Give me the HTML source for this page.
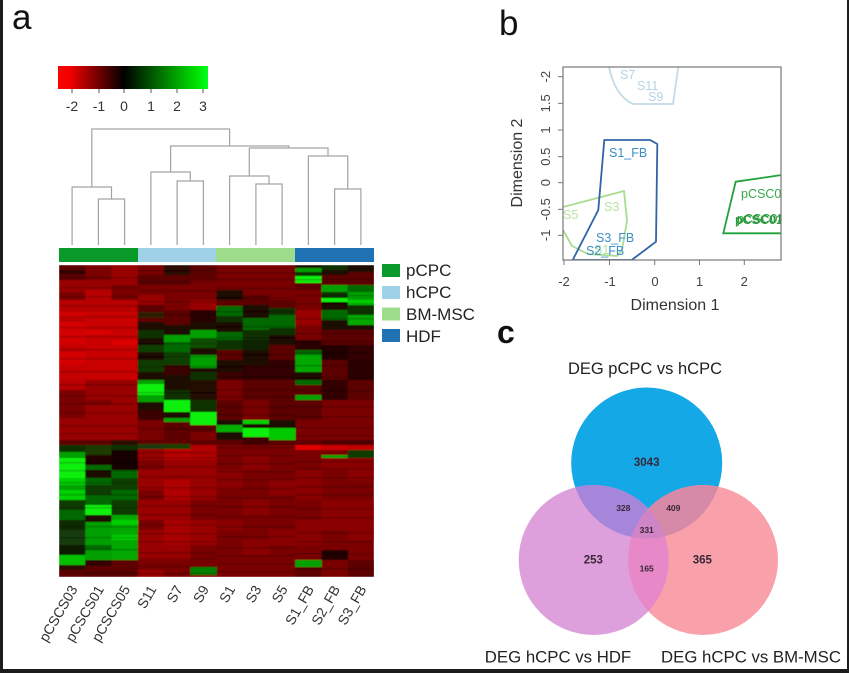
<!DOCTYPE html>
<html><head><meta charset="utf-8"><style>
html,body{margin:0;padding:0;background:#fff;}
svg{display:block;font-family:"Liberation Sans",Arial,sans-serif;}
</style></head><body>
<svg width="849" height="673" viewBox="0 0 849 673" xmlns="http://www.w3.org/2000/svg">
<defs>
<linearGradient id="key" x1="0" x2="1" y1="0" y2="0">
<stop offset="0" stop-color="#ff0000"/><stop offset="0.08" stop-color="#f00000"/><stop offset="0.44" stop-color="#000000"/><stop offset="0.92" stop-color="#00e000"/><stop offset="1" stop-color="#00ff20"/>
</linearGradient>
<clipPath id="box"><rect x="563" y="67" width="218" height="193"/></clipPath>
<clipPath id="cB"><circle cx="646.7" cy="463" r="75.5"/></clipPath>
<clipPath id="cP"><circle cx="593.7" cy="560" r="75"/></clipPath>
<clipPath id="cK"><circle cx="703" cy="560" r="75"/></clipPath>
<clipPath id="hm"><rect x="59" y="265" width="315" height="312"/></clipPath>
<filter id="bl" x="-2%" y="-2%" width="104%" height="104%"><feGaussianBlur stdDeviation="0.55"/></filter>
</defs>
<rect width="849" height="673" fill="#fff"/>
<!-- frame -->
<rect x="0" y="0" width="3" height="673" fill="#1c1c1c"/>
<rect x="847" y="0" width="2" height="673" fill="#1c1c1c"/>
<rect x="0" y="669" width="849" height="4" fill="#1c1c1c"/>

<!-- panel a -->
<text x="12" y="29" font-size="35" fill="#111">a</text>
<rect x="58" y="66" width="150" height="23" fill="url(#key)"/>
<g stroke="#555" stroke-width="1">
<line x1="72" y1="89" x2="72" y2="93"/><line x1="99" y1="89" x2="99" y2="93"/><line x1="124" y1="89" x2="124" y2="93"/><line x1="151" y1="89" x2="151" y2="93"/><line x1="177" y1="89" x2="177" y2="93"/><line x1="203" y1="89" x2="203" y2="93"/>
</g>
<g font-size="14" fill="#333" text-anchor="middle">
<text x="72" y="111">-2</text><text x="99" y="111">-1</text><text x="124" y="111">0</text><text x="151" y="111">1</text><text x="177" y="111">2</text><text x="203" y="111">3</text>
</g>
<!-- dendrogram -->
<g fill="none" stroke="#a3a3a3" stroke-width="1.2">
<path d="M98.4,245V199H124.6V245"/>
<path d="M72.1,245V187H111.5V199"/>
<path d="M177.1,245V181H203.4V245"/>
<path d="M150.9,245V172H190.25V181"/>
<path d="M255.9,245V184H282.1V245"/>
<path d="M229.6,245V176H269V184"/>
<path d="M334.6,245V189H360.9V245"/>
<path d="M308.4,245V156H347.75V189"/>
<path d="M249.3,176V148H328V156"/>
<path d="M170.6,172V146H288.7V148"/>
<path d="M91.8,187V129H229.6V146"/>
</g>
<!-- color bar -->
<rect x="59" y="248" width="79" height="14" fill="#0a9a2a"/>
<rect x="138" y="248" width="78" height="14" fill="#9fd2e6"/>
<rect x="216" y="248" width="79" height="14" fill="#9ddc8a"/>
<rect x="295" y="248" width="79" height="14" fill="#1f72b4"/>

<!-- heatmap -->
<g clip-path="url(#hm)"><g filter="url(#bl)">
<rect x="59" y="265" width="315" height="312" fill="#7a0000"/>
<g transform="translate(59,0)">
<rect y="265" height="5" width="26.5" fill="#5c0000"/><rect y="270" height="4" width="26.5" fill="#300000"/><rect y="274" height="6" width="26.5" fill="#5c0000"/><rect y="280" height="12" width="26.5" fill="#990000"/><rect y="292" height="8" width="26.5" fill="#7a0000"/><rect y="300" height="12" width="26.5" fill="#b80000"/><rect y="312" height="6" width="26.5" fill="#d40000"/><rect y="318" height="4" width="26.5" fill="#b80000"/><rect y="322" height="23" width="26.5" fill="#d40000"/><rect y="345" height="7" width="26.5" fill="#c00000"/><rect y="352" height="13" width="26.5" fill="#d40000"/><rect y="365" height="15" width="26.5" fill="#c40000"/><rect y="380" height="10" width="26.5" fill="#b80000"/><rect y="390" height="28" width="26.5" fill="#7a0000"/><rect y="418" height="22" width="26.5" fill="#990000"/><rect y="440" height="5" width="26.5" fill="#5c0000"/><rect y="445" height="7" width="26.5" fill="#0a3000"/><rect y="452" height="6" width="26.5" fill="#00a000"/><rect y="458" height="20" width="26.5" fill="#10f010"/><rect y="478" height="7" width="26.5" fill="#00d000"/><rect y="485" height="5" width="26.5" fill="#00a000"/><rect y="490" height="10" width="26.5" fill="#00d000"/><rect y="500" height="10" width="26.5" fill="#0a3a00"/><rect y="510" height="10" width="26.5" fill="#006a00"/><rect y="520" height="10" width="26.5" fill="#0a2a00"/><rect y="530" height="15" width="26.5" fill="#123a10"/><rect y="545" height="10" width="26.5" fill="#0a1a00"/><rect y="555" height="10" width="26.5" fill="#00c000"/><rect y="565" height="5" width="26.5" fill="#2a1000"/><rect y="570" height="7" width="26.5" fill="#600000"/>
</g>
<g transform="translate(85.25,0)">
<rect y="265" height="15" width="26.5" fill="#7a0000"/><rect y="280" height="10" width="26.5" fill="#990000"/><rect y="290" height="22" width="26.5" fill="#b80000"/><rect y="312" height="68" width="26.5" fill="#c80000"/><rect y="330" height="4" width="26.5" fill="#d80000"/><rect y="380" height="60" width="26.5" fill="#990000"/><rect y="400" height="5" width="26.5" fill="#7a0000"/><rect y="440" height="5" width="26.5" fill="#5c0000"/><rect y="445" height="10" width="26.5" fill="#1a3a00"/><rect y="455" height="10" width="26.5" fill="#200000"/><rect y="465" height="5" width="26.5" fill="#006a00"/><rect y="470" height="8" width="26.5" fill="#1a0800"/><rect y="478" height="7" width="26.5" fill="#006a00"/><rect y="485" height="10" width="26.5" fill="#0a3a00"/><rect y="495" height="10" width="26.5" fill="#006a00"/><rect y="505" height="10" width="26.5" fill="#10f010"/><rect y="515" height="7" width="26.5" fill="#1a0800"/><rect y="522" height="23" width="26.5" fill="#00a000"/><rect y="545" height="5" width="26.5" fill="#006a00"/><rect y="550" height="10" width="26.5" fill="#00a000"/><rect y="560" height="6" width="26.5" fill="#300000"/><rect y="566" height="11" width="26.5" fill="#5c0000"/>
</g>
<g transform="translate(111.5,0)">
<rect y="265" height="20" width="26.5" fill="#990000"/><rect y="285" height="15" width="26.5" fill="#7a0000"/><rect y="300" height="12" width="26.5" fill="#b80000"/><rect y="312" height="68" width="26.5" fill="#c80000"/><rect y="340" height="5" width="26.5" fill="#dc0000"/><rect y="380" height="60" width="26.5" fill="#990000"/><rect y="440" height="5" width="26.5" fill="#2a1000"/><rect y="445" height="5" width="26.5" fill="#0a3000"/><rect y="450" height="20" width="26.5" fill="#150000"/><rect y="470" height="8" width="26.5" fill="#006a00"/><rect y="478" height="12" width="26.5" fill="#0a4000"/><rect y="490" height="10" width="26.5" fill="#006a00"/><rect y="500" height="15" width="26.5" fill="#0a3a00"/><rect y="515" height="45" width="26.5" fill="#00a800"/><rect y="520" height="5" width="26.5" fill="#00d000"/><rect y="535" height="5" width="26.5" fill="#00d000"/><rect y="560" height="17" width="26.5" fill="#5c0000"/>
</g>
<g transform="translate(137.75,0)">
<rect y="265" height="10" width="26.5" fill="#7a0000"/><rect y="275" height="10" width="26.5" fill="#5c0000"/><rect y="285" height="10" width="26.5" fill="#7a0000"/><rect y="295" height="10" width="26.5" fill="#990000"/><rect y="305" height="7" width="26.5" fill="#5c0000"/><rect y="312" height="6" width="26.5" fill="#302000"/><rect y="318" height="4" width="26.5" fill="#5c0000"/><rect y="322" height="8" width="26.5" fill="#1a0800"/><rect y="330" height="8" width="26.5" fill="#0a3000"/><rect y="338" height="7" width="26.5" fill="#1a0800"/><rect y="345" height="7" width="26.5" fill="#0a4000"/><rect y="352" height="8" width="26.5" fill="#1a0800"/><rect y="360" height="12" width="26.5" fill="#103a00"/><rect y="372" height="8" width="26.5" fill="#1a0800"/><rect y="380" height="4" width="26.5" fill="#00a000"/><rect y="384" height="11" width="26.5" fill="#10f010"/><rect y="395" height="7" width="26.5" fill="#00a000"/><rect y="402" height="8" width="26.5" fill="#1a0800"/><rect y="410" height="10" width="26.5" fill="#3a0000"/><rect y="420" height="20" width="26.5" fill="#7a0000"/><rect y="440" height="4" width="26.5" fill="#600000"/><rect y="444" height="5" width="26.5" fill="#1a3a08"/><rect y="449" height="11" width="26.5" fill="#990000"/><rect y="470" height="20" width="26.5" fill="#990000"/><rect y="500" height="20" width="26.5" fill="#990000"/><rect y="530" height="30" width="26.5" fill="#990000"/><rect y="570" height="7" width="26.5" fill="#990000"/>
</g>
<g transform="translate(164,0)">
<rect y="265" height="10" width="26.5" fill="#2a0800"/><rect y="275" height="10" width="26.5" fill="#5c0000"/><rect y="310" height="15" width="26.5" fill="#5c0000"/><rect y="325" height="10" width="26.5" fill="#1a0800"/><rect y="335" height="7" width="26.5" fill="#00a000"/><rect y="342" height="10" width="26.5" fill="#006a00"/><rect y="352" height="13" width="26.5" fill="#0a4000"/><rect y="365" height="10" width="26.5" fill="#3a0000"/><rect y="375" height="15" width="26.5" fill="#1a0800"/><rect y="390" height="10" width="26.5" fill="#0a3000"/><rect y="400" height="12" width="26.5" fill="#10f010"/><rect y="412" height="6" width="26.5" fill="#1a0800"/><rect y="418" height="4" width="26.5" fill="#00a000"/><rect y="422" height="18" width="26.5" fill="#5c0000"/><rect y="440" height="4" width="26.5" fill="#600000"/><rect y="444" height="5" width="26.5" fill="#1a4000"/><rect y="449" height="11" width="26.5" fill="#b80000"/><rect y="460" height="20" width="26.5" fill="#990000"/><rect y="480" height="20" width="26.5" fill="#b00000"/><rect y="500" height="20" width="26.5" fill="#990000"/><rect y="520" height="25" width="26.5" fill="#a80000"/><rect y="545" height="15" width="26.5" fill="#990000"/>
</g>
<g transform="translate(190.25,0)">
<rect y="265" height="15" width="26.5" fill="#5c0000"/><rect y="300" height="10" width="26.5" fill="#990000"/><rect y="310" height="12" width="26.5" fill="#2a0000"/><rect y="322" height="8" width="26.5" fill="#1a0800"/><rect y="330" height="8" width="26.5" fill="#00a000"/><rect y="338" height="10" width="26.5" fill="#0a5000"/><rect y="348" height="7" width="26.5" fill="#1a0800"/><rect y="355" height="13" width="26.5" fill="#00a000"/><rect y="368" height="4" width="26.5" fill="#1a0800"/><rect y="372" height="8" width="26.5" fill="#0a3000"/><rect y="380" height="20" width="26.5" fill="#200800"/><rect y="400" height="12" width="26.5" fill="#0a3000"/><rect y="412" height="13" width="26.5" fill="#10f010"/><rect y="425" height="7" width="26.5" fill="#5c0000"/><rect y="440" height="5" width="26.5" fill="#600000"/><rect y="445" height="15" width="26.5" fill="#b00000"/><rect y="460" height="40" width="26.5" fill="#990000"/><rect y="520" height="25" width="26.5" fill="#990000"/><rect y="567" height="8" width="26.5" fill="#008000"/>
</g>
<g transform="translate(216.5,0)">
<rect y="290" height="10" width="26.5" fill="#1a0800"/><rect y="300" height="6" width="26.5" fill="#5c0000"/><rect y="306" height="10" width="26.5" fill="#006a00"/><rect y="316" height="6" width="26.5" fill="#0a3000"/><rect y="322" height="10" width="26.5" fill="#1a0800"/><rect y="332" height="8" width="26.5" fill="#006a00"/><rect y="340" height="10" width="26.5" fill="#0a3000"/><rect y="350" height="10" width="26.5" fill="#5c0000"/><rect y="360" height="12" width="26.5" fill="#1a0800"/><rect y="372" height="8" width="26.5" fill="#3a0000"/><rect y="400" height="20" width="26.5" fill="#5c0000"/><rect y="420" height="5" width="26.5" fill="#1a0800"/><rect y="425" height="7" width="26.5" fill="#00b000"/><rect y="432" height="8" width="26.5" fill="#1a0800"/><rect y="440" height="5" width="26.5" fill="#5c0000"/><rect y="470" height="20" width="26.5" fill="#8a0000"/><rect y="520" height="10" width="26.5" fill="#8a0000"/>
</g>
<g transform="translate(242.75,0)">
<rect y="295" height="10" width="26.5" fill="#5c0000"/><rect y="305" height="13" width="26.5" fill="#1a0800"/><rect y="318" height="12" width="26.5" fill="#006a00"/><rect y="330" height="10" width="26.5" fill="#0a3000"/><rect y="340" height="10" width="26.5" fill="#0a2000"/><rect y="350" height="15" width="26.5" fill="#1a0800"/><rect y="365" height="15" width="26.5" fill="#300000"/><rect y="380" height="20" width="26.5" fill="#5c0000"/><rect y="420" height="4" width="26.5" fill="#00d000"/><rect y="424" height="4" width="26.5" fill="#1a0800"/><rect y="428" height="9" width="26.5" fill="#10f010"/><rect y="437" height="8" width="26.5" fill="#400000"/><rect y="455" height="15" width="26.5" fill="#8a0000"/><rect y="500" height="15" width="26.5" fill="#8a0000"/><rect y="540" height="15" width="26.5" fill="#8a0000"/>
</g>
<g transform="translate(269,0)">
<rect y="300" height="8" width="26.5" fill="#5c0000"/><rect y="308" height="7" width="26.5" fill="#0a3000"/><rect y="315" height="13" width="26.5" fill="#006a00"/><rect y="328" height="7" width="26.5" fill="#0a3000"/><rect y="335" height="10" width="26.5" fill="#1a0800"/><rect y="345" height="15" width="26.5" fill="#5c0000"/><rect y="360" height="20" width="26.5" fill="#300000"/><rect y="380" height="40" width="26.5" fill="#5c0000"/><rect y="420" height="8" width="26.5" fill="#1a0800"/><rect y="428" height="12" width="26.5" fill="#00c800"/><rect y="440" height="5" width="26.5" fill="#5a0000"/><rect y="480" height="15" width="26.5" fill="#8a0000"/><rect y="530" height="15" width="26.5" fill="#8a0000"/>
</g>
<g transform="translate(295.25,0)">
<rect y="265" height="3" width="26.5" fill="#1a0800"/><rect y="268" height="4" width="26.5" fill="#00a000"/><rect y="272" height="4" width="26.5" fill="#0a3000"/><rect y="276" height="7" width="26.5" fill="#10f010"/><rect y="283" height="7" width="26.5" fill="#5c0000"/><rect y="310" height="15" width="26.5" fill="#990000"/><rect y="340" height="10" width="26.5" fill="#2a0000"/><rect y="350" height="5" width="26.5" fill="#006a00"/><rect y="355" height="17" width="26.5" fill="#00a800"/><rect y="372" height="8" width="26.5" fill="#1a0800"/><rect y="380" height="5" width="26.5" fill="#006a00"/><rect y="385" height="10" width="26.5" fill="#5c0000"/><rect y="395" height="5" width="26.5" fill="#00a000"/><rect y="400" height="20" width="26.5" fill="#5c0000"/><rect y="440" height="5" width="26.5" fill="#600000"/><rect y="445" height="5" width="26.5" fill="#e00000"/><rect y="470" height="30" width="26.5" fill="#8a0000"/><rect y="520" height="25" width="26.5" fill="#8a0000"/><rect y="560" height="7" width="26.5" fill="#00a000"/><rect y="567" height="10" width="26.5" fill="#5c0000"/>
</g>
<g transform="translate(321.5,0)">
<rect y="265" height="5" width="26.5" fill="#0a3000"/><rect y="270" height="5" width="26.5" fill="#1a0800"/><rect y="275" height="10" width="26.5" fill="#5c0000"/><rect y="285" height="7" width="26.5" fill="#00a000"/><rect y="292" height="6" width="26.5" fill="#0a3000"/><rect y="298" height="4" width="26.5" fill="#10f010"/><rect y="302" height="8" width="26.5" fill="#1a0800"/><rect y="310" height="10" width="26.5" fill="#006a00"/><rect y="320" height="10" width="26.5" fill="#1a0800"/><rect y="330" height="15" width="26.5" fill="#5c0000"/><rect y="345" height="15" width="26.5" fill="#200000"/><rect y="360" height="20" width="26.5" fill="#5c0000"/><rect y="380" height="20" width="26.5" fill="#300000"/><rect y="440" height="5" width="26.5" fill="#500000"/><rect y="445" height="5" width="26.5" fill="#cc0000"/><rect y="455" height="3" width="26.5" fill="#00a000"/><rect y="458" height="12" width="26.5" fill="#8a0000"/><rect y="500" height="30" width="26.5" fill="#8a0000"/><rect y="550" height="10" width="26.5" fill="#200000"/>
</g>
<g transform="translate(347.75,0)">
<rect y="265" height="7" width="26.5" fill="#1a0800"/><rect y="272" height="13" width="26.5" fill="#5c0000"/><rect y="285" height="7" width="26.5" fill="#006a00"/><rect y="292" height="8" width="26.5" fill="#00a000"/><rect y="300" height="5" width="26.5" fill="#00d000"/><rect y="305" height="10" width="26.5" fill="#0a3000"/><rect y="315" height="10" width="26.5" fill="#00a800"/><rect y="325" height="5" width="26.5" fill="#1a0800"/><rect y="330" height="15" width="26.5" fill="#5c0000"/><rect y="345" height="15" width="26.5" fill="#300000"/><rect y="360" height="20" width="26.5" fill="#2a0000"/><rect y="380" height="20" width="26.5" fill="#5c0000"/><rect y="440" height="5" width="26.5" fill="#500000"/><rect y="445" height="5" width="26.5" fill="#c00000"/><rect y="450" height="8" width="26.5" fill="#0a3a00"/><rect y="458" height="22" width="26.5" fill="#8a0000"/><rect y="500" height="40" width="26.5" fill="#8a0000"/><rect y="560" height="17" width="26.5" fill="#5c0000"/>
</g>
<!-- stripe texture -->
<g fill="#000" opacity="0.2">
<g transform="translate(59,0)">
<rect y="277" height="1.5" width="79"/><rect y="287" height="1.5" width="79"/><rect y="296" height="1.5" width="79"/><rect y="305" height="1.5" width="79"/><rect y="316" height="1.5" width="79"/><rect y="327" height="1.5" width="79"/><rect y="336" height="1.5" width="79"/><rect y="349" height="1.5" width="79"/><rect y="358" height="1.5" width="79"/><rect y="371" height="1.5" width="79"/><rect y="384" height="1.5" width="79"/><rect y="395" height="1.5" width="79"/><rect y="403" height="1.5" width="79"/><rect y="412" height="1.5" width="79"/><rect y="425" height="1.5" width="79"/><rect y="433" height="1.5" width="79"/><rect y="462" height="1.5" width="79"/><rect y="470" height="1.5" width="79"/><rect y="482" height="1.5" width="79"/><rect y="494" height="1.5" width="79"/><rect y="507" height="1.5" width="79"/><rect y="526" height="1.5" width="79"/><rect y="537" height="1.5" width="79"/><rect y="549" height="1.5" width="79"/><rect y="572" height="1.5" width="79"/>
</g>
<g transform="translate(138,0)">
<rect y="270" height="1.5" width="78"/><rect y="281" height="1.5" width="78"/><rect y="290" height="1.5" width="78"/><rect y="301" height="1.5" width="78"/><rect y="314" height="1.5" width="78"/><rect y="343" height="1.5" width="78"/><rect y="356" height="1.5" width="78"/><rect y="366" height="1.5" width="78"/><rect y="392" height="1.5" width="78"/><rect y="428" height="1.5" width="78"/><rect y="452" height="1.5" width="78"/><rect y="457" height="1.5" width="78"/><rect y="466" height="1.5" width="78"/><rect y="476" height="1.5" width="78"/><rect y="487" height="1.5" width="78"/><rect y="496" height="1.5" width="78"/><rect y="505" height="1.5" width="78"/><rect y="514" height="1.5" width="78"/><rect y="524" height="1.5" width="78"/><rect y="533" height="1.5" width="78"/><rect y="541" height="1.5" width="78"/><rect y="552" height="1.5" width="78"/><rect y="558" height="1.5" width="78"/><rect y="566" height="1.5" width="78"/><rect y="573" height="1.5" width="78"/>
</g>
<g transform="translate(216,0)">
<rect y="272" height="1.5" width="79"/><rect y="279" height="1.5" width="79"/><rect y="288" height="1.5" width="79"/><rect y="297" height="1.5" width="79"/><rect y="311" height="1.5" width="79"/><rect y="326" height="1.5" width="79"/><rect y="337" height="1.5" width="79"/><rect y="354" height="1.5" width="79"/><rect y="366" height="1.5" width="79"/><rect y="376" height="1.5" width="79"/><rect y="389" height="1.5" width="79"/><rect y="396" height="1.5" width="79"/><rect y="406" height="1.5" width="79"/><rect y="414" height="1.5" width="79"/><rect y="447" height="1.5" width="79"/><rect y="455" height="1.5" width="79"/><rect y="463" height="1.5" width="79"/><rect y="471" height="1.5" width="79"/><rect y="479" height="1.5" width="79"/><rect y="488" height="1.5" width="79"/><rect y="497" height="1.5" width="79"/><rect y="506" height="1.5" width="79"/><rect y="516" height="1.5" width="79"/><rect y="526" height="1.5" width="79"/><rect y="536" height="1.5" width="79"/><rect y="547" height="1.5" width="79"/><rect y="555" height="1.5" width="79"/><rect y="563" height="1.5" width="79"/><rect y="571" height="1.5" width="79"/>
</g>
<g transform="translate(295,0)">
<rect y="279" height="1.5" width="79"/><rect y="295" height="1.5" width="79"/><rect y="303" height="1.5" width="79"/><rect y="318" height="1.5" width="79"/><rect y="333" height="1.5" width="79"/><rect y="341" height="1.5" width="79"/><rect y="352" height="1.5" width="79"/><rect y="365" height="1.5" width="79"/><rect y="377" height="1.5" width="79"/><rect y="390" height="1.5" width="79"/><rect y="406" height="1.5" width="79"/><rect y="416" height="1.5" width="79"/><rect y="427" height="1.5" width="79"/><rect y="435" height="1.5" width="79"/><rect y="461" height="1.5" width="79"/><rect y="468" height="1.5" width="79"/><rect y="477" height="1.5" width="79"/><rect y="486" height="1.5" width="79"/><rect y="494" height="1.5" width="79"/><rect y="508" height="1.5" width="79"/><rect y="517" height="1.5" width="79"/><rect y="532" height="1.5" width="79"/><rect y="541" height="1.5" width="79"/><rect y="553" height="1.5" width="79"/><rect y="568" height="1.5" width="79"/>
</g>
</g>
</g></g>

<!-- legend -->
<rect x="382" y="264" width="18" height="13" fill="#0a9a2a"/>
<rect x="382" y="286" width="18" height="13" fill="#9fd2e6"/>
<rect x="382" y="307.5" width="18" height="13" fill="#9ddc8a"/>
<rect x="382" y="329" width="18" height="13" fill="#1f72b4"/>
<g font-size="17" fill="#222">
<text x="406" y="276">pCPC</text><text x="406" y="298">hCPC</text><text x="406" y="320">BM-MSC</text><text x="406" y="342">HDF</text>
</g>

<!-- column labels -->
<g font-size="14" fill="#333" text-anchor="end">
<text transform="translate(78,589) rotate(-60)">pCSCS03</text>
<text transform="translate(104.4,589) rotate(-60)">pCSCS01</text>
<text transform="translate(130.6,589) rotate(-60)">pCSCS05</text>
<text transform="translate(156.9,589) rotate(-60)">S11</text>
<text transform="translate(183.1,589) rotate(-60)">S7</text>
<text transform="translate(209.4,589) rotate(-60)">S9</text>
<text transform="translate(235.6,589) rotate(-60)">S1</text>
<text transform="translate(261.9,589) rotate(-60)">S3</text>
<text transform="translate(288.1,589) rotate(-60)">S5</text>
<text transform="translate(314.4,589) rotate(-60)">S1_FB</text>
<text transform="translate(340.6,589) rotate(-60)">S2_FB</text>
<text transform="translate(366.9,589) rotate(-60)">S3_FB</text>
</g>

<!-- panel b -->
<text x="499" y="35" font-size="35" fill="#111">b</text>
<g clip-path="url(#box)">
<path d="M608,62 C612,85 620,98 633,104 L673,104 L679,62" fill="none" stroke="#c4dbe6" stroke-width="1.8"/>
<path d="M563,207 L624,191 L627,221 L622,250 L617,256 L588,254 L572,246 L563,230" fill="none" stroke="#a8dc90" stroke-width="1.8"/>
<path d="M604.3,140 L650,140 L657.3,144 L656,241.7 L631.7,260 L572.7,260 L598.3,210 Z" fill="none" stroke="#2f64a6" stroke-width="1.8"/>
<path d="M735.7,181.7 L782,175 L782,233.3 L723.3,233.3 Z" fill="none" stroke="#1fa23a" stroke-width="1.8"/>
<g font-size="12.5">
<text x="620" y="79" fill="#b4d4e4">S7</text>
<text x="637" y="90" fill="#b4d4e4">S11</text>
<text x="648" y="101" fill="#b4d4e4">S9</text>
<text x="604" y="211" fill="#b8e2a6">S3</text>
<text x="563" y="219" fill="#b8e2a6">S5</text>
<text x="594" y="254" fill="#b8e2a6">S1</text>
<text x="609" y="157" fill="#3a8fc6">S1_FB</text>
<text x="596" y="242" fill="#3a8fc6">S3_FB</text>
<text x="586" y="255" fill="#3a8fc6">S2_FB</text>
<text x="741" y="198" fill="#38a84a">pCSC05</text>
<text x="735" y="224" fill="#2a9a3c" font-weight="bold">pCSC01</text>
<text x="737" y="223" fill="#2a9a3c">pCSC03</text>
</g>
</g>
<rect x="563" y="67" width="218" height="193" fill="none" stroke="#777" stroke-width="1.2"/>
<g stroke="#777" stroke-width="1">
<line x1="564" y1="260" x2="564" y2="265"/><line x1="609.5" y1="260" x2="609.5" y2="265"/><line x1="654.7" y1="260" x2="654.7" y2="265"/><line x1="699.5" y1="260" x2="699.5" y2="265"/><line x1="744.3" y1="260" x2="744.3" y2="265"/>
<line x1="558" y1="76.7" x2="563" y2="76.7"/><line x1="558" y1="103.3" x2="563" y2="103.3"/><line x1="558" y1="130" x2="563" y2="130"/><line x1="558" y1="156.7" x2="563" y2="156.7"/><line x1="558" y1="182.7" x2="563" y2="182.7"/><line x1="558" y1="209.3" x2="563" y2="209.3"/><line x1="558" y1="235.3" x2="563" y2="235.3"/>
</g>
<g font-size="13" fill="#444" text-anchor="middle">
<text x="564" y="286">-2</text><text x="610" y="286">-1</text><text x="655" y="286">0</text><text x="699.5" y="286">1</text><text x="744.3" y="286">2</text>
<text transform="translate(550,76.7) rotate(-90)">-2</text>
<text transform="translate(550,103.3) rotate(-90)">1.5</text>
<text transform="translate(550,130) rotate(-90)">1</text>
<text transform="translate(550,156.7) rotate(-90)">0.5</text>
<text transform="translate(550,182.7) rotate(-90)">0</text>
<text transform="translate(550,209.3) rotate(-90)">-0.5</text>
<text transform="translate(550,235.3) rotate(-90)">-1</text>
</g>
<text x="675" y="310" font-size="16" fill="#333" text-anchor="middle">Dimension 1</text>
<text transform="translate(522,163) rotate(-90)" font-size="16" fill="#333" text-anchor="middle">Dimension 2</text>

<!-- panel c -->
<text x="497" y="343" font-size="32" font-weight="bold" fill="#111">c</text>
<text x="645" y="374" font-size="16.5" fill="#222" text-anchor="middle">DEG pCPC vs hCPC</text>
<circle cx="646.7" cy="463" r="75.5" fill="#14a8e6"/>
<circle cx="593.7" cy="560" r="75" fill="#dea0dd"/>
<circle cx="703" cy="560" r="75" fill="#f9a1aa"/>
<g clip-path="url(#cB)"><circle cx="593.7" cy="560" r="75" fill="#a686da"/></g>
<g clip-path="url(#cB)"><circle cx="703" cy="560" r="75" fill="#d78aa8"/></g>
<g clip-path="url(#cP)"><circle cx="703" cy="560" r="75" fill="#e788c8"/></g>
<g clip-path="url(#cB)"><g clip-path="url(#cP)"><circle cx="703" cy="560" r="75" fill="#cf84c6"/></g></g>
<g font-weight="bold" fill="#3a2638" text-anchor="middle">
<text x="646.7" y="466" font-size="11.5">3043</text>
<text x="593.3" y="563.5" font-size="11.5">253</text>
<text x="702.3" y="563.5" font-size="11.5">365</text>
<text x="623.3" y="511" font-size="8.5">328</text>
<text x="673.3" y="511" font-size="8.5">409</text>
<text x="646.7" y="533" font-size="8.5">331</text>
<text x="646.7" y="571.5" font-size="8.5">165</text>
</g>
<text x="558" y="662.5" font-size="16.8" fill="#222" text-anchor="middle">DEG hCPC vs HDF</text>
<text x="751" y="662.5" font-size="16.8" fill="#222" text-anchor="middle">DEG hCPC vs BM-MSC</text>
</svg>
</body></html>
